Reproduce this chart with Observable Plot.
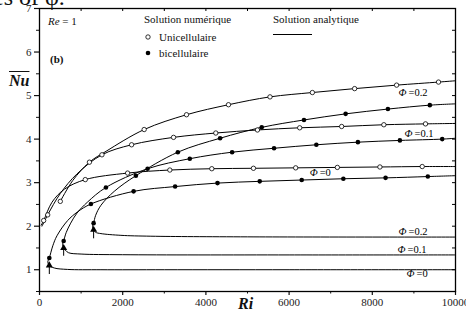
<!DOCTYPE html>
<html><head><meta charset="utf-8">
<script src="https://cdn.jsdelivr.net/npm/d3@7"></script>
<script src="https://cdn.jsdelivr.net/npm/@observablehq/plot@0.6"></script>
<style>
html,body{margin:0;padding:0;background:#fff;}
#wrap{position:relative;width:466px;height:311px;overflow:hidden;font-family:"Liberation Serif","Times New Roman",serif;color:#111;}
#wrap svg{position:absolute;left:0;top:0;font-family:"Liberation Serif","Times New Roman",serif;}
.ov{position:absolute;white-space:nowrap;line-height:1;}
</style></head><body>
<div id="wrap"></div>
<script>
// ---- axis ticks ----
const xTicks = [0, 2000, 4000, 6000, 8000, 10000];
const xMinor = [1000, 3000, 5000, 7000, 9000];
const yTicks = [1, 2, 3, 4, 5, 6, 7];
const yMinor = [0.5, 1.5, 2.5, 3.5, 4.5, 5.5, 6.5];

// ---- numerical solution: unicellulaire (open circles) ----
const uniRi0  = [100, 1100, 2118, 3133, 4142, 5143, 6158, 7160, 8183, 9200];
const uniNu0  = [2.13, 3.07, 3.22, 3.29, 3.32, 3.33, 3.34, 3.35, 3.36, 3.37];
const uniRi1  = [197, 1501, 2214, 3222, 4238, 5239, 6255, 7263, 8278, 9279];
const uniNu1  = [2.26, 3.64, 3.87, 4.04, 4.14, 4.21, 4.26, 4.29, 4.33, 4.35];
const uniRi2  = [500, 1200, 2516, 3534, 4543, 5541, 6560, 7575, 8584, 9592];
const uniNu2  = [2.57, 3.47, 4.22, 4.56, 4.79, 4.97, 5.07, 5.16, 5.24, 5.31];

// ---- numerical solution: bicellulaire (filled circles) ----
const biRi0 = [236, 1236, 2262, 3260, 4279, 5294, 6303, 7304, 8319, 9335];
const biNu0 = [1.27, 2.51, 2.80, 2.91, 2.99, 3.03, 3.06, 3.09, 3.11, 3.14];
const biRi1 = [581, 1597, 2598, 3613, 4630, 5638, 6655, 7654, 8663, 9681];
const biNu1 = [1.66, 2.89, 3.32, 3.55, 3.70, 3.79, 3.87, 3.93, 3.97, 4.00];
const biRi2 = [1301, 2317, 3325, 4341, 5342, 6358, 7359, 8375, 9383];
const biNu2 = [2.07, 3.16, 3.70, 4.02, 4.27, 4.44, 4.58, 4.69, 4.78];

// ---- analytic solution curves ----
const anUniRi0 = [40, 100, 300, 600, 1100, 2118, 3133, 4142, 5143, 6158, 7160, 8183, 9200, 10000];
const anUniNu0 = [2.02, 2.13, 2.55, 2.85, 3.07, 3.22, 3.29, 3.32, 3.33, 3.34, 3.35, 3.36, 3.37, 3.37];
const anUniRi1 = [60, 197, 500, 900, 1501, 2214, 3222, 4238, 5239, 6255, 7263, 8278, 9279, 10000];
const anUniNu1 = [2.0, 2.26, 2.75, 3.2, 3.64, 3.87, 4.04, 4.14, 4.21, 4.26, 4.29, 4.33, 4.35, 4.36];
const anUniRi2 = [500, 800, 1200, 1600, 2516, 3534, 4543, 5541, 6560, 7575, 8584, 9592, 10000];
const anUniNu2 = [2.57, 3.05, 3.47, 3.72, 4.22, 4.56, 4.79, 4.97, 5.07, 5.16, 5.24, 5.31, 5.34];

const anBiRi0 = [10000, 6000, 3000, 1477, 677, 355, 236, 200, 236, 320, 420, 677, 917, 1236, 2262, 3260, 4279, 5294, 6303, 7304, 8319, 9335, 10000];
const anBiNu0 = [1.0, 1.0, 1.0, 1.0, 1.007, 1.04, 1.10, 1.18, 1.27, 1.55, 1.78, 2.13, 2.33, 2.51, 2.80, 2.91, 2.99, 3.03, 3.06, 3.09, 3.11, 3.14, 3.16];
const anBiRi1 = [10000, 6000, 2000, 1000, 700, 620, 581, 555, 581, 640, 750, 900, 1150, 1597, 2598, 3613, 4630, 5638, 6655, 7654, 8663, 9681, 10000];
const anBiNu1 = [1.34, 1.34, 1.345, 1.36, 1.39, 1.45, 1.50, 1.58, 1.66, 1.85, 2.07, 2.30, 2.55, 2.89, 3.32, 3.55, 3.70, 3.79, 3.87, 3.93, 3.97, 4.00, 4.02];
const anBiRi2 = [10000, 5000, 2677, 1957, 1477, 1350, 1301, 1275, 1301, 1350, 1477, 1796, 2317, 3325, 4341, 5342, 6358, 7359, 8375, 9383, 10000];
const anBiNu2 = [1.75, 1.755, 1.77, 1.79, 1.83, 1.86, 1.92, 1.99, 2.07, 2.25, 2.48, 2.80, 3.16, 3.70, 4.02, 4.27, 4.44, 4.58, 4.69, 4.78, 4.81];

// ---- arrows at the bifurcation points ----
const arrowRi   = [236, 581, 1301];
const arrowLow  = [0.89, 1.31, 1.71];
const arrowHigh = [1.10, 1.50, 1.92];

// ---- curve labels ----
const labelPhi = ["0.2", "0.1", "0", "0.2", "0.1", "0"];
const labelRi  = [8847, 8991, 6711, 8847, 8823, 9040];
const labelNu  = [5.07, 4.13, 3.22, 1.885, 1.46, 0.91];

const mk = (id, ri, nu) => ri.map((r, i) => ({id, ri: r, nu: nu[i]}));
const uniPts = [...mk("u0", uniRi0, uniNu0), ...mk("u1", uniRi1, uniNu1), ...mk("u2", uniRi2, uniNu2)];
const biPts  = [...mk("b0", biRi0, biNu0), ...mk("b1", biRi1, biNu1), ...mk("b2", biRi2, biNu2)];
const anLines = [
  ...mk("au0", anUniRi0, anUniNu0), ...mk("au1", anUniRi1, anUniNu1), ...mk("au2", anUniRi2, anUniNu2),
  ...mk("ab0", anBiRi0, anBiNu0), ...mk("ab1", anBiRi1, anBiNu1), ...mk("ab2", anBiRi2, anBiNu2)
];
const labels = labelPhi.map((p, i) => ({p, ri: labelRi[i], nu: labelNu[i]}));
const arrows = arrowRi.map((r, i) => ({ri: r, lo: arrowLow[i], hi: arrowHigh[i]}));
const xAll = [...xTicks, ...xMinor];
const yAll = [...yTicks, ...yMinor];

const chart = Plot.plot({
  width: 466, height: 311,
  marginLeft: 39, marginRight: 11, marginTop: 8, marginBottom: 20,
  x: {domain: [0, 10000]},
  y: {domain: [0.5, 7]},
  style: {fontFamily: "'Liberation Serif', serif", fontSize: "11px", background: "transparent", overflow: "visible"},
  marks: [
    Plot.axisX(xTicks, {tickSize: 4, tickPadding: 3, tickFormat: d => String(d), label: null, fill: "#222", strokeWidth: 1.2}),
    Plot.axisX(xMinor, {tickSize: 2.5, tickFormat: () => "", label: null}),
    Plot.axisY(yTicks, {tickSize: 5, tickPadding: 3, tickFormat: d => String(d), label: null, fill: "#222", strokeWidth: 1.2}),
    Plot.axisY(yMinor, {tickSize: 3, tickFormat: () => "", label: null}),
    // small inward ticks on the top and right borders
    Plot.ruleX(xAll, {x: d => d, insetBottom: 280, stroke: "#000"}),
    Plot.ruleY(yAll, {y: d => d, insetLeft: 413, stroke: "#000"}),
    Plot.line(anLines, {x: "ri", y: "nu", z: "id", curve: "catmull-rom", stroke: "#000", strokeWidth: 1}),
    Plot.ruleX(arrows, {x: "ri", y1: "lo", y2: "hi", stroke: "#000", strokeWidth: 1}),
    Plot.dot(arrows, {x: "ri", y: "hi", symbol: "triangle", r: 2.6, fill: "#000", stroke: "none"}),
    Plot.dot(uniPts, {x: "ri", y: "nu", r: 2.2, fill: "#fff", stroke: "#000", strokeWidth: 0.8}),
    Plot.dot(biPts, {x: "ri", y: "nu", r: 2.3, fill: "#000", stroke: "none"}),
    Plot.text(labels, {x: "ri", y: "nu", text: () => "Φ", fontStyle: "italic", textAnchor: "end", dx: -1, fontSize: 10.5, fill: "#000"}),
    Plot.text(labels, {x: "ri", y: "nu", text: d => "=" + d.p, textAnchor: "start", dx: 1, fontSize: 10.5, fill: "#000"}),
    Plot.frame({stroke: "#000", strokeWidth: 1.3})
  ]
});

const wrap = document.getElementById("wrap");
wrap.appendChild(chart);

function ov(html, css) {
  const d = document.createElement("div");
  d.className = "ov";
  d.innerHTML = html;
  d.style.cssText += css;
  wrap.appendChild(d);
  return d;
}
// cut-off caption from the page above the figure
ov("es of φ.", "left:-7px;top:-15px;font-size:24px;");
// in-plot annotations and legend
ov("<i>Re</i> = 1", "left:48px;top:16px;font-size:11px;");
ov("<b>(b)</b>", "left:50px;top:54px;font-size:11px;");
ov("Solution numérique", "left:144px;top:14px;font-size:11px;");
ov("Solution analytique", "left:273px;top:14px;font-size:11px;");
ov("<svg width='40' height='3'><line x1='0' y1='1.5' x2='39' y2='1.5' stroke='#000' stroke-width='1'/></svg>", "left:273px;top:33px;");
ov("<svg width='8' height='8'><circle cx='4' cy='4' r='2.2' fill='#fff' stroke='#000' stroke-width='0.8'/></svg>", "left:144px;top:33px;");
ov("Unicellulaire", "left:159px;top:32px;font-size:11px;");
ov("<svg width='8' height='8'><circle cx='4' cy='4' r='2.3' fill='#000'/></svg>", "left:144px;top:49px;");
ov("bicellulaire", "left:159px;top:48px;font-size:11px;");
// axis titles
ov("<b><i><span style='text-decoration:overline'>Nu</span></i></b>", "left:9px;top:73px;font-size:16px;");
ov("<b><i>Ri</i></b>", "left:238px;top:296px;font-size:16px;");
</script>
</body></html>
